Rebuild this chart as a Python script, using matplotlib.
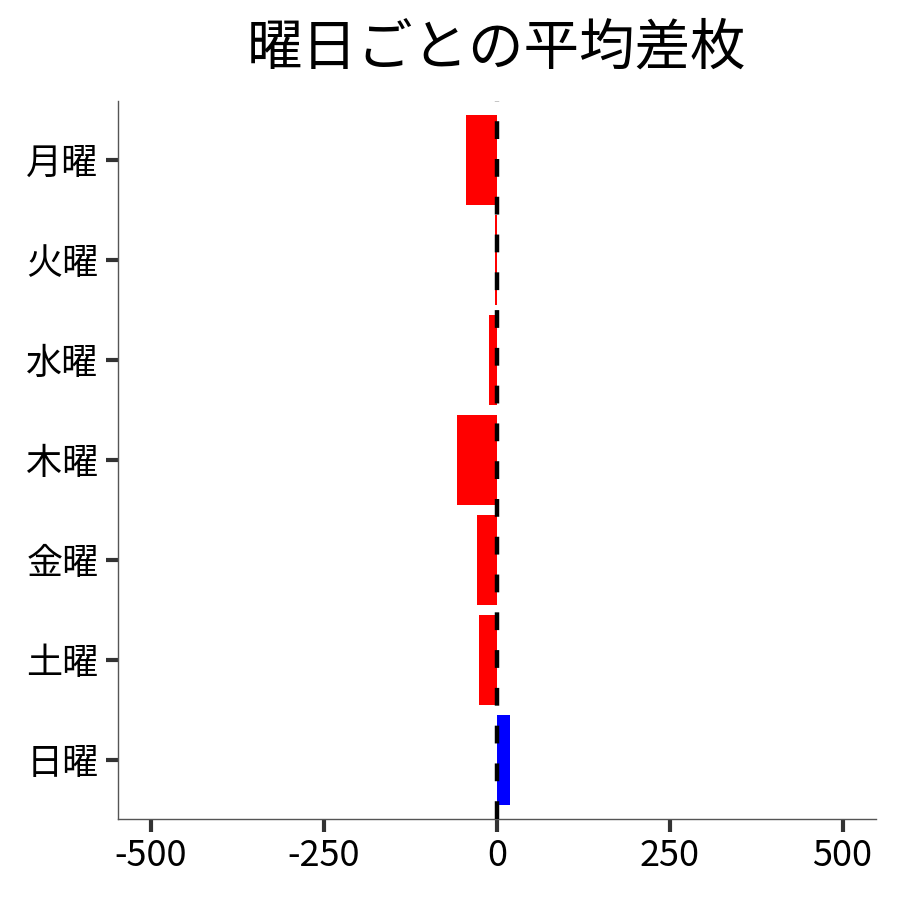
import numpy as np
import matplotlib
matplotlib.use('Agg')
import matplotlib.pyplot as plt

plt.rcParams['font.family'] = ['Noto Sans CJK JP', 'DejaVu Sans']

days = ['月曜', '火曜', '水曜', '木曜', '金曜', '土曜', '日曜']
values = [-44, -2, -12, -57, -29, -26, 19]
xticks = [-500, -250, 0, 250, 500]

colors = ['red' if v < 0 else 'blue' for v in values]

fig = plt.figure(figsize=(9, 9), dpi=100)
ax = fig.add_axes([0.131, 0.09, 0.842, 0.798])

y = np.arange(len(days))
ax.barh(y, values, height=0.9, color=colors, zorder=2)
ax.axvline(0, color='black', lw=3.2, linestyle=(0, (4, 4.5)), zorder=3)

ax.set_yticks(y)
ax.set_yticklabels(days)
ax.set_ylim(len(days) - 0.41, -0.59)
ax.set_xticks(xticks)
ax.set_xticklabels([str(t) for t in xticks])
ax.set_xlim(-548, 548)

ax.tick_params(axis='both', labelsize=26, length=9, width=3, color='#333333', pad=5)
for s in ['top', 'right']:
    ax.spines[s].set_visible(False)
for s in ['left', 'bottom']:
    ax.spines[s].set_color('#555555')
    ax.spines[s].set_linewidth(1)

ax.set_title('曜日ごとの平均差枚', fontsize=40, pad=26)

plt.savefig('out.png', dpi=100)
